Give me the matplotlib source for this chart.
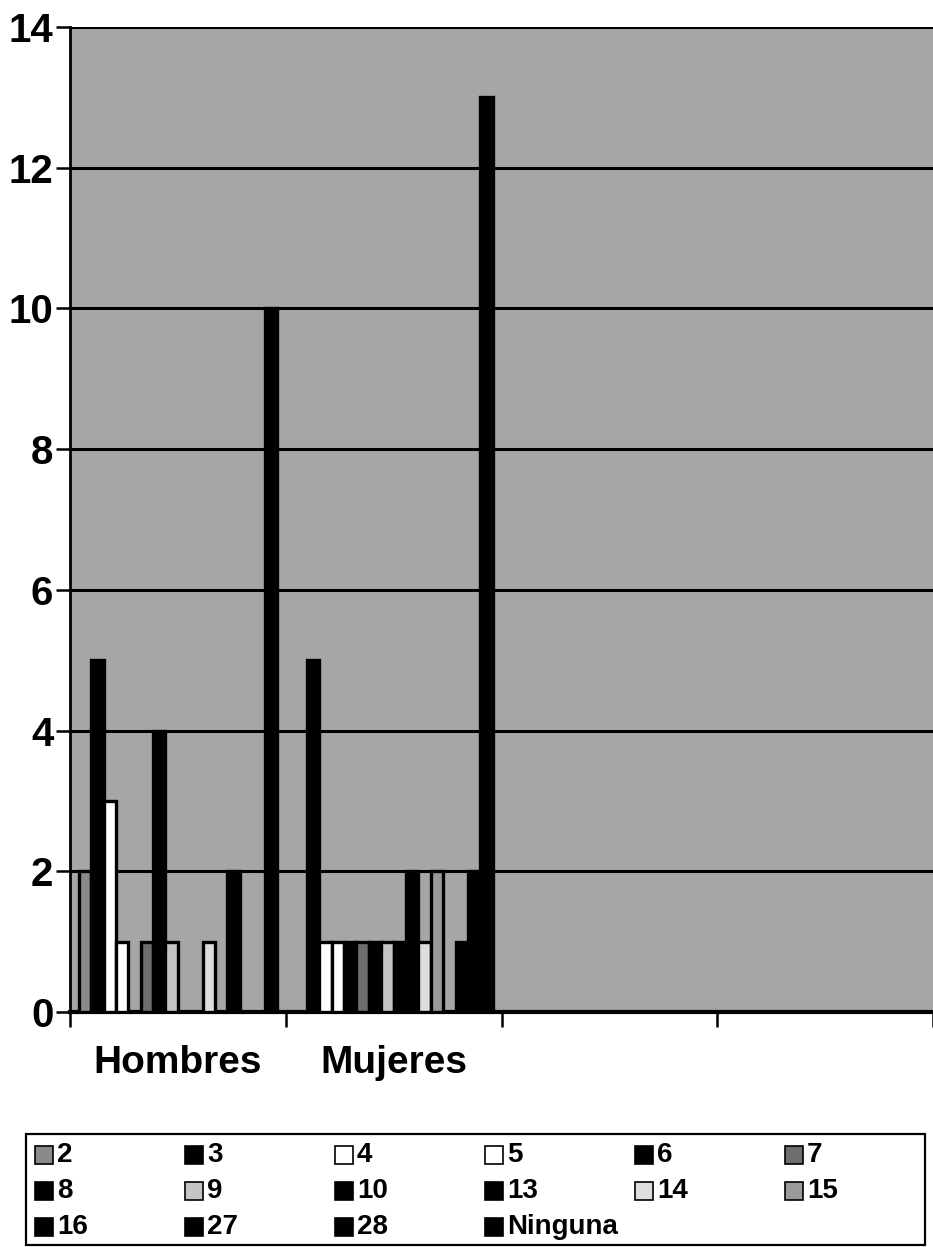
import numpy as np
import matplotlib.pyplot as plt
from matplotlib.patches import Rectangle

plt.rcParams['font.family'] = ['Liberation Sans', 'DejaVu Sans']
plt.rcParams['font.weight'] = 'bold'

# data
categories = ['Hombres', 'Mujeres', '', '']
series = ['2', '3', '4', '5', '6', '7', '8', '9', '10', '13', '14', '15',
          '16', '27', '28', 'Ninguna']
hombres = [2, 5, 3, 1, 0, 1, 4, 1, 0, 0, 1, 0, 2, 0, 0, 10]
mujeres = [0, 5, 1, 1, 1, 1, 1, 1, 1, 2, 1, 2, 0, 1, 2, 13]

fills = ['#8a8a8a', 'black', 'white', 'white', 'black', '#6e6e6e',
         'black', '#c4c4c4', 'black', 'black', '#dedede', '#9a9a9a',
         'black', 'black', 'black', 'black']

W, H = 933, 1247
fig = plt.figure(figsize=(W / 100, H / 100), dpi=100)
ax = fig.add_axes([70 / W, 1 - 1012 / H, 1 - 70 / W, (1012 - 27) / H])
ax.set_facecolor('#a6a6a6')

n = len(series)
w = 12.4 / 216
values = np.array([hombres, mujeres]).T
x = np.arange(values.shape[1]) + 0.5
for i in range(n):
    ax.bar(x + (i - (n - 1) / 2) * w, values[i], width=w, color=fills[i],
           edgecolor='black', linewidth=2.4, zorder=3)

ax.set_xlim(0, len(categories))
ax.set_ylim(0, 14)
ax.set_yticks(np.arange(0, 15, 2))
ax.yaxis.grid(True, color='black', linewidth=2.2, zorder=1)
ax.set_axisbelow(True)

ax.set_xticks(np.arange(len(categories) + 1))
ax.set_xticklabels([])
ax.set_xticks(np.arange(len(categories)) + 0.5, minor=True)
ax.set_xticklabels(categories, minor=True, fontsize=28)
ax.tick_params(axis='x', which='major', length=11, width=1.8, direction='out')
ax.tick_params(axis='x', which='minor', length=0, pad=24)
ax.tick_params(axis='y', length=10, width=1.8, labelsize=29, pad=2)

for s in ['top', 'right']:
    ax.spines[s].set_visible(False)
ax.spines['left'].set_linewidth(2.0)
ax.spines['bottom'].set_linewidth(3.0)

# legend box, filled row by row (6 columns) like the original
fig.patches.append(Rectangle((26 / W, 1 - 1245 / H), (925 - 26) / W, (1245 - 1134) / H,
                             transform=fig.transFigure, facecolor='white',
                             edgecolor='black', linewidth=1.6))
for k, name in enumerate(series):
    row, col = divmod(k, 6)
    px = 35 + 150 * col
    py = 1155 + 36 * row
    fig.patches.append(Rectangle((px / W, 1 - (py + 9) / H), 18 / W, 18 / H,
                                 transform=fig.transFigure, facecolor=fills[k],
                                 edgecolor='black', linewidth=1.2))
    fig.text((px + 22) / W, 1 - py / H, name, fontsize=20, va='center', ha='left')

fig.savefig('out.png', dpi=100)
